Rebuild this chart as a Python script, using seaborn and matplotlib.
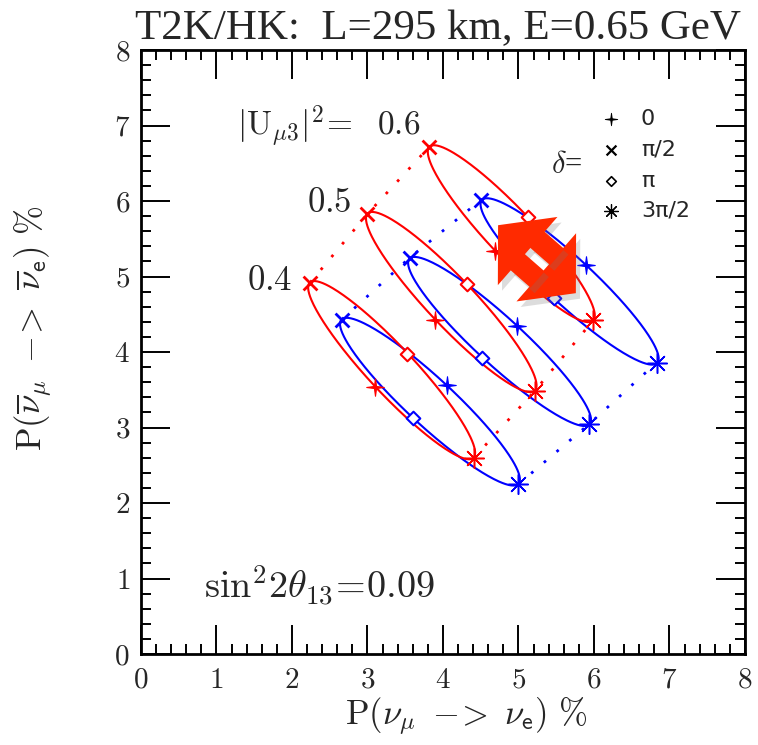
import numpy as np
import pandas as pd
import seaborn as sns
import matplotlib.pyplot as plt
from matplotlib.patches import Polygon
from matplotlib.path import Path
from matplotlib.ticker import MultipleLocator
from matplotlib import patheffects as pe

# values, columns are delta = 0, pi/2, pi, 3pi/2
u_mu3 = [0.4, 0.5, 0.6]
delta_names = ['0', 'pi/2', 'pi', '3pi/2']
delta_labels = ['0', 'π/2', 'π', '3π/2']

red_nue = [[3.10, 2.24, 3.53, 4.41],
           [3.90, 3.00, 4.32, 5.22],
           [4.69, 3.82, 5.12, 5.99]]
red_nuebar = [[3.54, 4.92, 3.98, 2.60],
              [4.43, 5.83, 4.90, 3.49],
              [5.34, 6.72, 5.79, 4.42]]
blue_nue = [[4.05, 2.66, 3.60, 5.00],
            [4.98, 3.56, 4.52, 5.94],
            [5.90, 4.51, 5.47, 6.83]]
blue_nuebar = [[3.56, 4.43, 3.13, 2.25],
               [4.34, 5.25, 3.92, 3.05],
               [5.15, 6.02, 4.71, 3.86]]

ticks = [0, 1, 2, 3, 4, 5, 6, 7, 8]
tick_labels = [rf'${t}$' for t in ticks]

arrow_tail = (4.73, 5.68)
arrow_head = (5.76, 4.78)

colors = {'red': '#ff0000', 'blue': '#0000ff'}

# thin four-point star for delta = 0
ang = np.arange(8) * np.pi / 4 + np.pi / 2
rad = [1, 0.17] * 4
star4 = Path([(r * np.cos(a), r * np.sin(a)) for r, a in zip(rad, ang)] + [(0, 1)], closed=True)

marker_map = {'0': star4, 'pi/2': 'x', 'pi': 'D', '3pi/2': (8, 2, 0)}
size_map = {'0': 160, 'pi/2': 100, 'pi': 48, '3pi/2': 200}
lw_map = {'0': 0.8, 'pi/2': 2.0, 'pi': 1.5, '3pi/2': 1.1}

# long table of the points
rows = []
for name, xs, ys in [('red', red_nue, red_nuebar), ('blue', blue_nue, blue_nuebar)]:
    for i, u in enumerate(u_mu3):
        for j, d in enumerate(delta_names):
            rows.append(dict(hier=name, u=u, delta=d, x=xs[i][j], y=ys[i][j]))
pts = pd.DataFrame(rows)

sns.set_style('ticks')
plt.rcParams['font.family'] = ['Liberation Serif', 'DejaVu Serif']
plt.rcParams['mathtext.fontset'] = 'cm'

fig = plt.figure(figsize=(7.58, 7.45), dpi=100)
ax = fig.add_axes([0.186, 0.1221, 0.7968, 0.8107])

# ellipses through the four delta points
phi = np.linspace(0, 2 * np.pi, 300)
for (name, u), g in pts.groupby(['hier', 'u']):
    p = g.set_index('delta')[['x', 'y']]
    c0 = p.mean().values
    a = (p.loc['0'].values - p.loc['pi'].values) / 2
    b = (p.loc['pi/2'].values - p.loc['3pi/2'].values) / 2
    curve = pd.DataFrame({'x': c0[0] + a[0] * np.cos(phi) + b[0] * np.sin(phi),
                          'y': c0[1] + a[1] * np.cos(phi) + b[1] * np.sin(phi)})
    sns.lineplot(data=curve, x='x', y='y', sort=False, estimator=None,
                 color=colors[name], lw=1.5, ax=ax, zorder=2)

# dotted lines joining same delta for different |U_mu3|^2
for name in ['red', 'blue']:
    for d in ['pi/2', '3pi/2']:
        g = pts[(pts.hier == name) & (pts.delta == d)].sort_values('u')
        sns.lineplot(data=g, x='x', y='y', sort=False, estimator=None,
                     color=colors[name], lw=2.0, linestyle=(0, (1, 5)),
                     ax=ax, zorder=2)

# markers
for name in ['red', 'blue']:
    for d in delta_names:
        g = pts[(pts.hier == name) & (pts.delta == d)]
        kw = dict(edgecolor=colors[name], linewidth=lw_map[d])
        if d == 'pi':
            kw['facecolor'] = 'white'
        else:
            kw['color'] = colors[name]
        sns.scatterplot(data=g, x='x', y='y', marker=marker_map[d], s=size_map[d],
                        ax=ax, legend=False, zorder=4, **kw)

# big red double arrow
t = np.array(arrow_tail)
h = np.array(arrow_head)
L = np.linalg.norm(h - t)
uv = (h - t) / L
nv = np.array([-uv[1], uv[0]])
hl, hh, sh, gap = 0.52, 0.60, 0.34, 0.055
shapes = [
    [t, t + uv * hl + nv * hh, t + uv * hl - nv * hh],
    [h, h - uv * hl + nv * hh, h - uv * hl - nv * hh],
    [t + uv * (hl - 0.02) + nv * gap, t + uv * (hl - 0.02) + nv * sh,
     h - uv * (hl - 0.02) + nv * sh, h - uv * (hl - 0.02) + nv * gap],
    [t + uv * (hl - 0.02) - nv * gap, t + uv * (hl - 0.02) - nv * sh,
     h - uv * (hl - 0.02) - nv * sh, h - uv * (hl - 0.02) - nv * gap],
]
for s in shapes:
    poly = Polygon(s, closed=True, facecolor='#ff2a00', edgecolor='none', zorder=6)
    poly.set_path_effects([pe.SimplePatchShadow(offset=(3, -4), shadow_rgbFace='#777777', alpha=0.25),
                           pe.Normal()])
    ax.add_patch(poly)

# manual delta legend
leg_y = [0.886, 0.835, 0.784, 0.734]
for d, lab, yy in zip(delta_names, delta_labels, leg_y):
    ax.scatter([0.779], [yy], transform=ax.transAxes, marker=marker_map[d],
               s=size_map[d] * 0.5, color='black' if d != 'pi' else 'white',
               edgecolor='black', linewidth=lw_map[d] * 0.8, zorder=5)
    ax.text(0.8275, yy, lab, transform=ax.transAxes, fontsize=16,
            ha='left', va='center', family='DejaVu Sans')
ax.text(0.731, 0.809, r'$\delta$=', transform=ax.transAxes, fontsize=22,
        ha='right', va='center')

# labels for |U_mu3|^2 and theta13
ax.text(3.70, 6.98, r'$|\mathrm{U}_{\mu 3}|^2\!=\ \ 0.6$', fontsize=24, ha='right', va='center')
ax.text(2.79, 5.97, r'$0.5$', fontsize=25, ha='right', va='center')
ax.text(2.01, 4.93, r'$0.4$', fontsize=25, ha='right', va='center')
ax.text(0.84, 0.90, r'$\sin^2\!2\theta_{13}\!=\!0.09$', fontsize=27.5, ha='left', va='center')

ax.set_xlim(0, 8)
ax.set_ylim(0, 8)
ax.set_xticks(ticks)
ax.set_yticks(ticks)
ax.set_xticklabels(tick_labels, fontsize=21)
ax.set_yticklabels(tick_labels, fontsize=21)
ax.xaxis.set_minor_locator(MultipleLocator(0.2))
ax.yaxis.set_minor_locator(MultipleLocator(0.2))
ax.tick_params(which='major', direction='in', length=21, width=1.4,
               top=True, right=True, color='black')
ax.tick_params(axis='x', which='major', pad=10)
ax.tick_params(axis='y', which='major', pad=8)
ax.tick_params(which='minor', direction='in', length=7, width=1.4,
               top=True, right=True, color='black')
for sp in ax.spines.values():
    sp.set_linewidth(2)
    sp.set_color('black')
ax.set_xlabel('')
ax.set_ylabel('')

fig.text(0.615, 0.038, r'$\mathrm{P}(\nu_\mu\ -\!\!>\ \nu_\mathsf{e})\ \%$',
         fontsize=25, ha='center', va='center')
fig.text(0.045, 0.56, r'$\mathrm{P}(\overline{\nu}_\mu\ -\!\!>\ \overline{\nu}_\mathsf{e})\ \%$',
         fontsize=25, ha='center', va='center', rotation=90)
fig.text(0.178, 0.947, 'T2K/HK:  L=295 km, E=0.65 GeV', fontsize=31,
         ha='left', va='baseline')

fig.savefig('out.png', dpi=100)
